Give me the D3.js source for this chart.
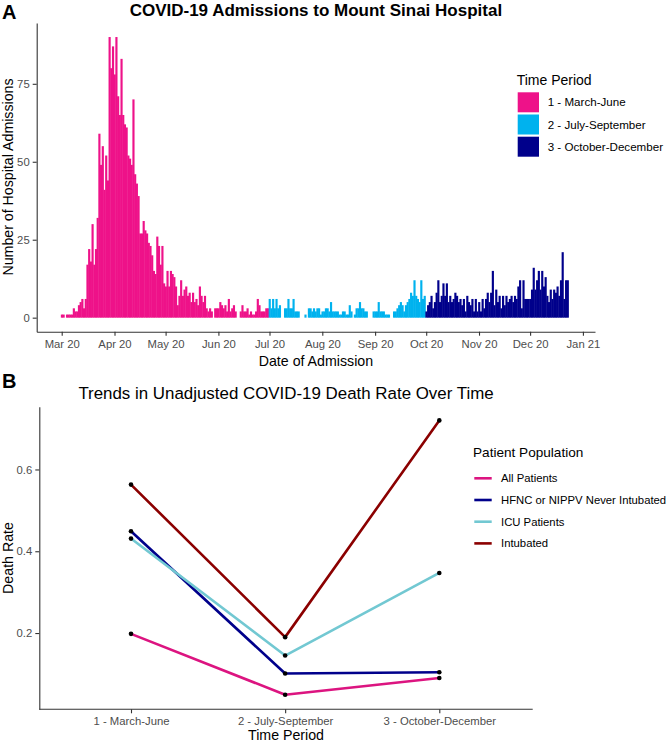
<!DOCTYPE html>
<html><head><meta charset="utf-8">
<script src="https://cdn.jsdelivr.net/npm/d3@7"></script>
<style>body{margin:0;background:#fff;} text{font-family:"Liberation Sans",Arial,sans-serif;}</style>
</head><body><svg id="c" width="666" height="742"></svg>
<script>
// ---------- DATA ----------
// Panel A: daily admissions starting 2020-03-01
const admStartDate = "2020-03-01";
const admissions = [
 1,1,0,1,1,1,1,3,2,2,4,5,6,3,
 6,17,22,18,30,17,22,32,
 59,49,55,41,52,44,
 90,80,87,78,90,71,65,83,65,62,61,52,51,49,70,46,43,39,
 27,27,31,28,27,24,23,20,15,14,26,23,17,23,11,
 10,15,10,15,14,13,10,4,7,12,7,9,10,7,8,5,8,5,6,4,
 10,7,5,7,3,2,3,2,0,3,3,3,5,4,3,4,2,6,2,3,4,2,
 0,0,2,4,2,2,3,1,2,1,1,2,6,4,2,2,2,3,3,
 6,3,6,3,6,3,4,0,0,
 3,3,6,3,3,6,2,2,2,
 0,0,0,1,0,
 3,3,2,3,2,3,3,1,2,2,3,3,2,5,2,
 2,2,2,1,1,2,2,1,1,4,2,0,1,3,3,5,3,3,2,2,
 0,0,0,2,2,2,5,2,2,2,1,1,1,0,0,2,2,3,4,
 5,4,2,4,5,6,8,7,12,7,6,5,12,6,7,
 2,4,5,7,3,5,8,12,5,7,11,7,11,5,7,5,6,8,7,5,
 6,4,6,2,7,5,4,6,2,6,2,5,2,6,3,6,8,5,8,15,
 4,9,5,7,3,7,4,7,5,6,7,5,7,6,10,12,3,12,6,6,
 6,6,9,16,9,12,15,9,15,10,13,7,5,9,6,9,8,10,7,12,
 21,6,12,12
];
const periods = ["1 - March-June", "2 - July-September", "3 - October-December"];
const periodColors = ["#EE1289", "#00B2EE", "#00008B"];
const admYTicks = [0, 25, 50, 75];

// Panel B: death rates
const periodsB = ["1 - March-June", "2 - July-September", "3 - October-December"];
const groups = ["All Patients", "HFNC or NIPPV Never Intubated", "ICU Patients", "Intubated"];
const groupColors = ["#DC1480", "#00008B", "#72C8D2", "#8B0000"];
const rateAll = [0.198, 0.049, 0.090];
const rateHFNC = [0.449, 0.101, 0.104];
const rateICU = [0.431, 0.145, 0.347];
const rateIntubated = [0.563, 0.190, 0.720];
const rateYTicks = [0.2, 0.4, 0.6];

// ---------- DRAW ----------
const svg = d3.select("#c");
const DAY = 86400000;
const t0 = Date.parse(admStartDate + "T00:00:00Z");
const axisCol = "#333333", tickTxt = "#4D4D4D";

// Panel A
const xA = d3.scaleUtc().domain([new Date(t0 - 14.68 * DAY), new Date(t0 + 313.1 * DAY)]).range([36.7, 595]);
const yA = d3.scaleLinear().domain([-4.5, 94.5]).range([331.7, 23]);
const periodOf = d => { const m = d.getUTCMonth(); return m <= 5 ? 0 : (m <= 8 ? 1 : 2); };
const admData = admissions.map((v, i) => ({ date: new Date(t0 + i * DAY), v }));

svg.append("g").selectAll("rect").data(admData.filter(d => d.v > 0)).join("rect")
  .attr("x", d => xA(new Date(+d.date - DAY / 2)))
  .attr("width", d => xA(new Date(+d.date + DAY / 2)) - xA(new Date(+d.date - DAY / 2)) + 0.45)
  .attr("y", d => yA(d.v))
  .attr("height", d => yA(0) - yA(d.v))
  .attr("fill", d => periodColors[periodOf(d.date)]);

const monthTicks = d3.utcMonths(new Date(t0), new Date(Date.UTC(2021, 0, 2)));
const gxA = svg.append("g").attr("transform", "translate(0,331.7)")
  .call(d3.axisBottom(xA).tickValues(monthTicks).tickFormat(d3.utcFormat("%b %y")).tickSize(4).tickPadding(4).tickSizeOuter(0));
const gyA = svg.append("g").attr("transform", "translate(36.7,0)")
  .call(d3.axisLeft(yA).tickValues(admYTicks).tickSize(4).tickPadding(3).tickSizeOuter(0));

function styleAxis(g) {
  g.select(".domain").attr("stroke", axisCol).attr("stroke-width", 1.1);
  g.selectAll(".tick line").attr("stroke", axisCol).attr("stroke-width", 1.1);
  g.selectAll(".tick text").attr("fill", tickTxt).style("font-size", "11.3px").style("font-family", "'Liberation Sans', Arial, sans-serif");
}
styleAxis(gxA); styleAxis(gyA);

svg.append("text").attr("x", 2).attr("y", 18.5).style("font-size", "20px").style("font-weight", "bold").text("A");
svg.append("text").attr("x", 315.9).attr("y", 15.8).attr("text-anchor", "middle").style("font-size", "17px").style("font-weight", "bold").text("COVID-19 Admissions to Mount Sinai Hospital");
svg.append("text").attr("x", 315.9).attr("y", 366).attr("text-anchor", "middle").style("font-size", "14.2px").text("Date of Admission");
svg.append("text").attr("transform", "translate(12.5,177) rotate(-90)").attr("text-anchor", "middle").style("font-size", "14.2px").text("Number of Hospital Admissions");

// Legend A
const legA = svg.append("g");
legA.append("text").attr("x", 516.7).attr("y", 85).style("font-size", "14px").text("Time Period");
periods.forEach((p, i) => {
  legA.append("rect").attr("x", 517.7).attr("y", 92.3 + i * 22.2).attr("width", 21.3).attr("height", 20).attr("fill", periodColors[i]);
  legA.append("text").attr("x", 547.7).attr("y", 102.3 + i * 22.2).attr("dy", "0.35em").style("font-size", "11.6px").text(p);
});

// Panel B
const xB = d3.scalePoint().domain(periodsB).range([131, 439.3]);
const yB = d3.scaleLinear().domain([0.0135, 0.7535]).range([709.3, 406.7]);
const series = [rateAll, rateHFNC, rateICU, rateIntubated];
const line = d3.line().x((d, i) => xB(periodsB[i])).y(d => yB(d));
series.forEach((s, k) => {
  svg.append("path").datum(s).attr("d", line).attr("fill", "none")
    .attr("stroke", groupColors[k]).attr("stroke-width", 2.6).attr("stroke-linejoin", "round");
});
series.forEach(s => {
  svg.append("g").selectAll("circle").data(s).join("circle")
    .attr("cx", (d, i) => xB(periodsB[i])).attr("cy", d => yB(d)).attr("r", 2.3).attr("fill", "#000");
});
const gxB = svg.append("g").attr("transform", "translate(0,709.3)")
  .call(d3.axisBottom(xB).tickSize(4).tickPadding(4).tickSizeOuter(0));
gxB.select(".domain").remove();
gxB.append("line").attr("x1", 39.3).attr("x2", 532.7).attr("stroke", axisCol).attr("stroke-width", 1.1);
const gyB = svg.append("g").attr("transform", "translate(39.3,0)")
  .call(d3.axisLeft(yB).tickValues(rateYTicks).tickFormat(d3.format(".1f")).tickSize(4).tickPadding(3).tickSizeOuter(0));
styleAxis(gxB); styleAxis(gyB);

svg.append("text").attr("x", 2).attr("y", 388).style("font-size", "20px").style("font-weight", "bold").text("B");
svg.append("text").attr("x", 286).attr("y", 399).attr("text-anchor", "middle").style("font-size", "16.9px").text("Trends in Unadjusted COVID-19 Death Rate Over Time");
svg.append("text").attr("x", 286).attr("y", 740).attr("text-anchor", "middle").style("font-size", "14.2px").text("Time Period");
svg.append("text").attr("transform", "translate(12.5,558) rotate(-90)").attr("text-anchor", "middle").style("font-size", "14.2px").text("Death Rate");

// Legend B
const legB = svg.append("g");
legB.append("text").attr("x", 473).attr("y", 457).style("font-size", "13.6px").text("Patient Population");
groups.forEach((g, i) => {
  const yy = 478.3 + i * 21.7;
  legB.append("line").attr("x1", 474.3).attr("x2", 491.7).attr("y1", yy).attr("y2", yy).attr("stroke", groupColors[i]).attr("stroke-width", 2.6);
  legB.append("text").attr("x", 501).attr("y", yy).attr("dy", "0.35em").style("font-size", "11.3px").text(g);
});
</script></body></html>
